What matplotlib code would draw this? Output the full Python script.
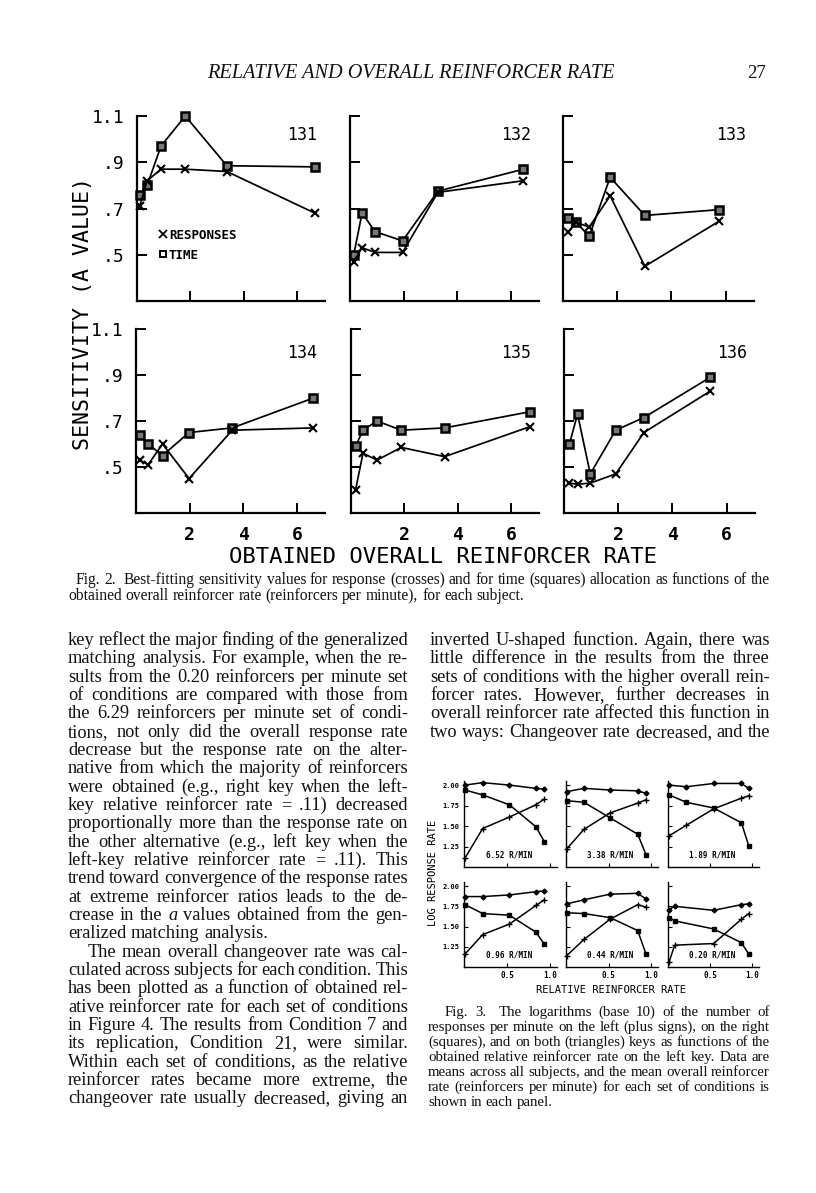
import matplotlib
matplotlib.use('Agg')
import matplotlib.pyplot as plt
from matplotlib.lines import Line2D

W, H = 816, 1193
MONO = 'DejaVu Sans Mono'
SERIF = 'Liberation Serif'

# ---------------- Figure 2 data (sensitivity a vs overall reinforcer rate) ----------------
subjects = ['131', '132', '133', '134', '135', '136']
rate_131 = [0.10, 0.38, 0.90, 1.81, 3.37, 6.67]
resp_131 = [0.71, 0.82, 0.87, 0.87, 0.86, 0.68]
time_131 = [0.76, 0.80, 0.97, 1.10, 0.885, 0.88]
rate_132 = [0.14, 0.45, 0.94, 1.96, 3.28, 6.47]
resp_132 = [0.47, 0.53, 0.51, 0.51, 0.77, 0.82]
time_132 = [0.50, 0.68, 0.60, 0.56, 0.775, 0.87]
rate_133 = [0.20, 0.48, 0.97, 1.74, 3.02, 5.76]
resp_133 = [0.60, 0.64, 0.62, 0.755, 0.45, 0.645]
time_133 = [0.66, 0.64, 0.58, 0.835, 0.67, 0.695]
rate_134 = [0.14, 0.45, 0.99, 1.98, 3.59, 6.62]
resp_134 = [0.53, 0.51, 0.60, 0.45, 0.66, 0.67]
time_134 = [0.64, 0.60, 0.55, 0.65, 0.67, 0.80]
rate_135 = [0.17, 0.45, 0.97, 1.89, 3.51, 6.70]
resp_135 = [0.40, 0.56, 0.53, 0.585, 0.545, 0.675]
time_135 = [0.59, 0.66, 0.70, 0.66, 0.67, 0.74]
rate_136 = [0.20, 0.50, 0.97, 1.91, 2.95, 5.40]
resp_136 = [0.43, 0.425, 0.43, 0.47, 0.65, 0.83]
time_136 = [0.60, 0.73, 0.47, 0.66, 0.715, 0.89]
fig2_yticks = [0.5, 0.7, 0.9, 1.1]
fig2_yticklabels = ['.5', '.7', '.9', '1.1']
fig2_xticks = [2, 4, 6]
fig2_xticklabels = ['2', '4', '6']

# ---------------- Figure 3 data (log response rate vs relative reinforcer rate) ----------------
fig3_labels = ['6.52 R/MIN', '3.38 R/MIN', '1.89 R/MIN', '0.96 R/MIN', '0.44 R/MIN', '0.20 R/MIN']
relx_1 = [0.012, 0.217, 0.527, 0.836, 0.933]
left_1 = [1.11, 1.47, 1.61, 1.76, 1.83]
right_1 = [1.94, 1.88, 1.76, 1.49, 1.31]
both_1 = [2.00, 2.03, 2.00, 1.96, 1.95]
relx_2 = [0.008, 0.211, 0.517, 0.842, 0.939]
left_2 = [1.22, 1.46, 1.66, 1.78, 1.82]
right_2 = [1.81, 1.79, 1.60, 1.40, 1.15]
both_2 = [1.92, 1.96, 1.94, 1.93, 1.90]
relx_3 = [0.012, 0.218, 0.542, 0.871, 0.958]
left_3 = [1.38, 1.51, 1.71, 1.84, 1.87]
right_3 = [1.88, 1.79, 1.72, 1.54, 1.26]
both_3 = [2.00, 1.98, 2.02, 2.02, 1.96]
relx_4 = [0.012, 0.217, 0.527, 0.836, 0.933]
left_4 = [1.16, 1.40, 1.53, 1.76, 1.83]
right_4 = [1.77, 1.66, 1.64, 1.43, 1.28]
both_4 = [1.87, 1.87, 1.89, 1.93, 1.94]
relx_5 = [0.008, 0.211, 0.517, 0.842, 0.939]
left_5 = [1.14, 1.34, 1.59, 1.77, 1.74]
right_5 = [1.67, 1.66, 1.61, 1.45, 1.16]
both_5 = [1.78, 1.83, 1.90, 1.91, 1.84]
relx_6 = [0.012, 0.079, 0.542, 0.871, 0.958]
left_6 = [1.06, 1.27, 1.29, 1.59, 1.66]
right_6 = [1.61, 1.57, 1.47, 1.30, 1.16]
both_6 = [1.71, 1.75, 1.70, 1.77, 1.78]
fig3_yticks = [1.25, 1.50, 1.75, 2.00]
fig3_yticklabels = ['1.25', '1.50', '1.75', '2.00']
fig3_xticks = [0.5, 1.0]
fig3_xticklabels = ['0.5', '1.0']

# ---------------- Page text ----------------
header_title = 'RELATIVE AND OVERALL REINFORCER RATE'
page_number = '27'
fig2_ylabel = 'SENSITIVITY (A VALUE)'
fig2_xlabel = 'OBTAINED OVERALL REINFORCER RATE'
fig3_ylabel = 'LOG RESPONSE RATE'
fig3_xlabel = 'RELATIVE REINFORCER RATE'
fig2_caption = [
    'Fig. 2.  Best-fitting sensitivity values for response (crosses) and for time (squares) allocation as functions of the',
    'obtained overall reinforcer rate (reinforcers per minute), for each subject.',
]
left_col = [
    'key reflect the major finding of the generalized',
    'matching analysis. For example, when the re-',
    'sults from the 0.20 reinforcers per minute set',
    'of conditions are compared with those from',
    'the 6.29 reinforcers per minute set of condi-',
    'tions, not only did the overall response rate',
    'decrease but the response rate on the alter-',
    'native from which the majority of reinforcers',
    'were obtained (e.g., right key when the left-',
    'key relative reinforcer rate = .11) decreased',
    'proportionally more than the response rate on',
    'the other alternative (e.g., left key when the',
    'left-key relative reinforcer rate = .11). This',
    'trend toward convergence of the response rates',
    'at extreme reinforcer ratios leads to the de-',
    'crease in the _a_ values obtained from the gen-',
    'eralized matching analysis.',
    'The mean overall changeover rate was cal-',
    'culated across subjects for each condition. This',
    'has been plotted as a function of obtained rel-',
    'ative reinforcer rate for each set of conditions',
    'in Figure 4. The results from Condition 7 and',
    'its replication, Condition 21, were similar.',
    'Within each set of conditions, as the relative',
    'reinforcer rates became more extreme, the',
    'changeover rate usually decreased, giving an',
]
right_col = [
    'inverted U-shaped function. Again, there was',
    'little difference in the results from the three',
    'sets of conditions with the higher overall rein-',
    'forcer rates. However, further decreases in',
    'overall reinforcer rate affected this function in',
    'two ways: Changeover rate decreased, and the',
]
fig3_caption = [
    'Fig. 3.  The logarithms (base 10) of the number of',
    'responses per minute on the left (plus signs), on the right',
    '(squares), and on both (triangles) keys as functions of the',
    'obtained relative reinforcer rate on the left key. Data are',
    'means across all subjects, and the mean overall reinforcer',
    'rate (reinforcers per minute) for each set of conditions is',
    'shown in each panel.',
]

# =====================================================================
fig = plt.figure(figsize=(W / 100, H / 100), dpi=100)
fig.patch.set_facecolor('white')
renderer = fig.canvas.get_renderer()
INK = '#111111'


def ax_px(x0, y0, x1, y1):
    return fig.add_axes([x0 / W, 1 - y1 / H, (x1 - x0) / W, (y1 - y0) / H])


def split_words(text):
    out = []
    for w in text.split(' '):
        if len(w) > 2 and w.startswith('_') and w.endswith('_'):
            out.append((w[1:-1], 'italic'))
        else:
            out.append((w, 'normal'))
    return out


def words_width(text, size, family=SERIF):
    total = 0.0
    for w, st in split_words(text):
        if not w:
            continue
        t = fig.text(0, 0, w, fontsize=size, family=family, style=st)
        total += t.get_window_extent(renderer).width
        t.remove()
    return total


def fit_size(lines, spans, flags, max_size, min_gap=3.6, family=SERIF):
    s0 = 10.0
    best = max_size
    for line, (x0, x1), j in zip(lines, spans, flags):
        if not j:
            continue
        n = len(line.split(' '))
        tot = words_width(line, s0, family)
        s_fit = s0 * (x1 - x0 - min_gap * (n - 1)) / tot
        best = min(best, s_fit)
    return best


def put_line(text, x0, x1, y, size, justify=True, family=SERIF):
    words = split_words(text)
    arts = []
    total = 0.0
    for w, st in words:
        t = fig.text(0, 1 - y / H, w, fontsize=size, family=family, style=st,
                     va='baseline', ha='left', color=INK)
        wpx = t.get_window_extent(renderer).width if w else 0.0
        arts.append((t, wpx))
        total += wpx
    space = size * 100 / 72 * 0.25
    if justify and len(words) > 1:
        gap = (x1 - x0 - total) / (len(words) - 1)
    else:
        gap = space
    x = x0
    for t, wpx in arts:
        t.set_x(x / W)
        x += wpx + gap


# ---------------- header ----------------
fig.text(411 / W, 1 - 78 / H, header_title, fontsize=14.6, family=SERIF, style='italic',
         ha='center', va='baseline', color=INK)
fig.text(757 / W, 1 - 78 / H, page_number, fontsize=13.5, family=SERIF,
         ha='center', va='baseline', color=INK)

# ---------------- Figure 2 ----------------
fig2_data = [(rate_131, resp_131, time_131), (rate_132, resp_132, time_132),
             (rate_133, resp_133, time_133), (rate_134, resp_134, time_134),
             (rate_135, resp_135, time_135), (rate_136, resp_136, time_136)]
fig2_boxes = [(137, 116, 325, 301), (350, 116, 539, 301), (563, 116, 754, 301),
              (136, 329, 325, 513), (351, 329, 539, 513), (564, 329, 755, 513)]
for i, (subj, (rx, ry, ty), box) in enumerate(zip(subjects, fig2_data, fig2_boxes)):
    ax = ax_px(*box)
    ax.set_facecolor('none')
    ax.plot(rx, ty, color='k', lw=1.25, marker='s', ms=5.8, mfc='#777777', mec='k', mew=1.8,
            clip_on=False, zorder=3)
    ax.plot(rx, ry, color='k', lw=1.25, marker='x', ms=6, mew=1.5, clip_on=False, zorder=4)
    ax.set_xlim(0, 7.05)
    ax.set_ylim(0.3, 1.1)
    for s in ('top', 'right'):
        ax.spines[s].set_visible(False)
    for s in ('left', 'bottom'):
        ax.spines[s].set_linewidth(1.6)
    ax.set_yticks(fig2_yticks)
    ax.set_xticks(fig2_xticks)
    ax.tick_params(direction='in', length=7, width=1.4, pad=9)
    if i % 3 == 0:
        ax.set_yticklabels(fig2_yticklabels, family=MONO, fontsize=13)
    else:
        ax.set_yticklabels([])
    if i >= 3:
        ax.set_xticklabels(fig2_xticklabels, family=MONO, fontsize=13, fontweight='bold')
    else:
        ax.set_xticklabels([])
    ax.text(0.96, 0.9 if i < 3 else 0.87, subj, transform=ax.transAxes, ha='right', va='center',
            family=MONO, fontsize=12)
    if i == 0:
        h1 = Line2D([], [], ls='none', marker='x', color='k', ms=5.5, mew=1.3)
        h2 = Line2D([], [], ls='none', marker='s', mfc='white', mec='k', ms=4.5, mew=1.4)
        ax.legend([h1, h2], ['RESPONSES', 'TIME'], loc='upper left', bbox_to_anchor=(0.12, 0.39),
                  frameon=False, handlelength=0.6, handletextpad=0.15, borderaxespad=0,
                  borderpad=0, labelspacing=0.55,
                  prop={'family': MONO, 'size': 9, 'weight': 'bold'})

fig.text(83 / W, 1 - 314 / H, fig2_ylabel, rotation=90, ha='center', va='center',
         family=MONO, fontsize=15.5)
fig.text(443 / W, 1 - 557 / H, fig2_xlabel, ha='center', va='center', family=MONO, fontsize=16)

cap2_spans = [(76, 770), (68, 770)]
cap2_size = fit_size(fig2_caption, cap2_spans, [True, False], 11.2)
put_line(fig2_caption[0], 76, 770, 584, cap2_size)
put_line(fig2_caption[1], 68, 770, 600, cap2_size, justify=False)

# ---------------- body text ----------------
left_spans = [(88, 408) if k == 17 else (68, 408) for k in range(len(left_col))]
left_flags = [k != 16 for k in range(len(left_col))]
right_spans = [(430, 770)] * len(right_col)
right_flags = [True] * len(right_col)
BODY = fit_size(left_col + right_col, left_spans + right_spans, left_flags + right_flags, 13.6)
for k, line in enumerate(left_col):
    y = 645 + k * 18.33
    x0, x1 = left_spans[k]
    put_line(line, x0, x1, y, BODY, justify=left_flags[k])
for k, line in enumerate(right_col):
    y = 645 + k * 18.33
    put_line(line, 430, 770, y, BODY, justify=True)

# ---------------- Figure 3 ----------------
fig3_data = [(relx_1, left_1, right_1, both_1), (relx_2, left_2, right_2, both_2),
             (relx_3, left_3, right_3, both_3), (relx_4, left_4, right_4, both_4),
             (relx_5, left_5, right_5, both_5), (relx_6, left_6, right_6, both_6)]
fig3_boxes = [(464, 781, 557, 867), (566, 781, 658, 867), (668, 781, 759, 867),
              (464, 882, 557, 967), (566, 882, 658, 967), (668, 882, 759, 967)]
for i, (lab, (x, l, r, b), box) in enumerate(zip(fig3_labels, fig3_data, fig3_boxes)):
    ax = ax_px(*box)
    ax.set_facecolor('none')
    kw = dict(color='k', lw=1.1, clip_on=False)
    ax.plot(x, b, marker='D', ms=2.5, **kw)
    ax.plot(x, l, marker='+', ms=4, mew=1.0, **kw)
    ax.plot(x, r, marker='s', ms=3.2, **kw)
    ax.set_xlim(0.0, 1.08)
    ax.set_ylim(1.0, 2.05)
    for s in ('top', 'right'):
        ax.spines[s].set_visible(False)
    for s in ('left', 'bottom'):
        ax.spines[s].set_linewidth(1.0)
    ax.set_yticks(fig3_yticks)
    ax.set_xticks(fig3_xticks)
    ax.tick_params(direction='in', length=3, width=0.8, pad=3)
    if i % 3 == 0:
        ax.set_yticklabels(fig3_yticklabels, family=MONO, fontsize=5, fontweight='bold')
    else:
        ax.set_yticklabels([])
    if i >= 3:
        ax.set_xticklabels(fig3_xticklabels, family=MONO, fontsize=5.5, fontweight='bold')
    else:
        ax.set_xticklabels([])
    ax.text(0.48, 0.14, lab, transform=ax.transAxes, ha='center', va='center',
            family=MONO, fontsize=5.5, fontweight='bold')

fig.text(433 / W, 1 - 873 / H, fig3_ylabel, rotation=90, ha='center', va='center',
         family=MONO, fontsize=7.5)
fig.text(611 / W, 1 - 990 / H, fig3_xlabel, ha='center', va='center', family=MONO, fontsize=7.5)

cap3_spans = [(445, 770)] + [(428, 770)] * (len(fig3_caption) - 1)
cap3_flags = [k < len(fig3_caption) - 1 for k in range(len(fig3_caption))]
cap3_size = fit_size(fig3_caption, cap3_spans, cap3_flags, 11.2)
for k, line in enumerate(fig3_caption):
    y = 1016 + k * 15.0
    x0, x1 = cap3_spans[k]
    put_line(line, x0, x1, y, cap3_size, justify=cap3_flags[k])

fig.savefig('out.png', dpi=100, facecolor='white')
